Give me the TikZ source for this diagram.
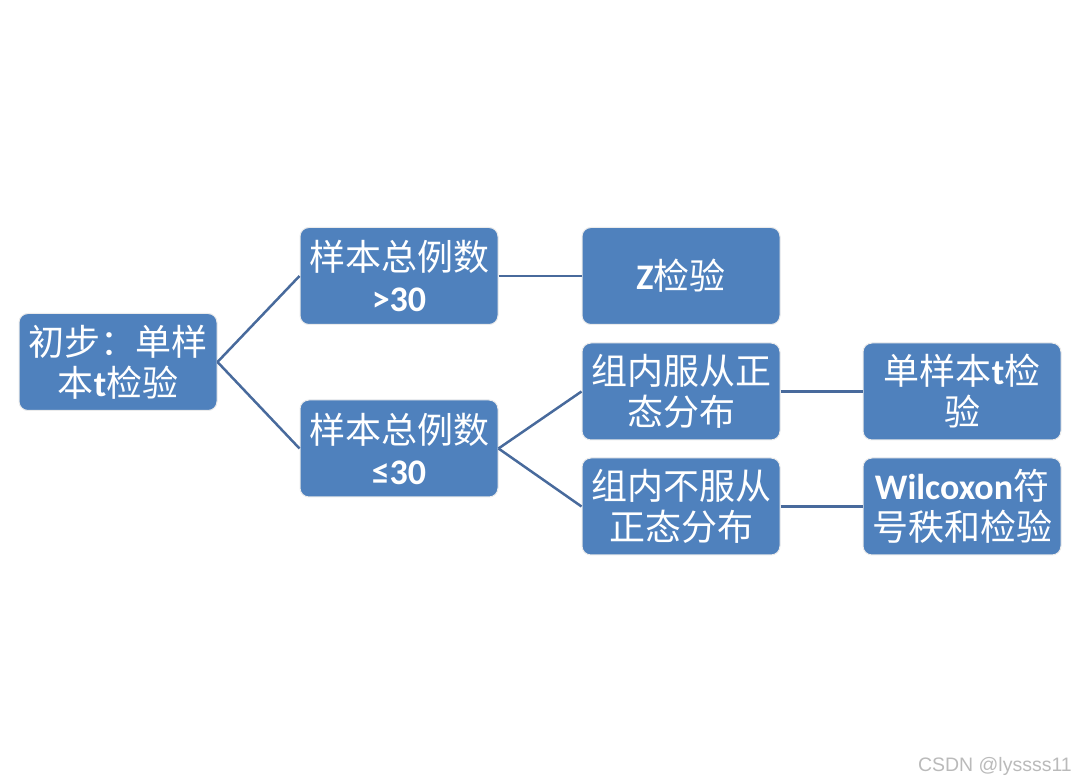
\documentclass[tikz,border=0pt]{standalone}
\usepackage{fontspec}
\newfontfamily\cjk{Noto Sans CJK SC}
\newfontfamily\lat{Carlito}
\newfontfamily\creditfont{Liberation Sans}
\usetikzlibrary{positioning}
\newcommand{\en}[1]{{\lat\bfseries #1}}
\definecolor{boxblue}{RGB}{79,129,189}
\definecolor{linkblue}{RGB}{72,106,156}

\begin{document}
\begin{tikzpicture}[
    x = 1pt, y = -1pt,
    testbox/.style = {rectangle, rounded corners = 9pt, draw = black!8, line width = 1pt,
        fill = boxblue, text = white, align = center, inner sep = 0pt,
        minimum width = 198pt, minimum height = 97pt,
        font = \cjk\fontsize{36}{41}\selectfont},
    link/.style = {draw = linkblue, line width = 2.5pt},
    ]
    \useasboundingbox (0,0) rectangle (1080,783);

    % first test and the two sample sizes
    \node [testbox] (start) at (118,362) {初步：单样\\本\en{t}检验};
    \node [testbox] (large) at (399,276) {样本总例数\\\en{>30}};
    \node [testbox] (small) at (399,448.5) {样本总例数\\\en{≤30}};

    % tests for each case
    \node [testbox] (ztest) [right = 83pt of large] {\en{Z}检验};
    \node [testbox] (normal) at (681,391.5) {组内服从正\\态分布};
    \node [testbox] (nonnormal) at (681,506.5) {组内不服从\\正态分布};
    \node [testbox] (ttest) [right = 82pt of normal] {单样本\en{t}检\\验};
    \node [testbox] (wilcoxon) [right = 82pt of nonnormal] {\en{Wilcoxon}符\\号秩和检验};

    \draw [link] (start.east) -- (large.west);
    \draw [link] (start.east) -- (small.west);
    \draw [link] (large.east) -- (ztest.west);
    \draw [link] (small.east) -- (normal.west);
    \draw [link] (small.east) -- (nonnormal.west);
    \draw [link] (normal.east) -- (ttest.west);
    \draw [link] (nonnormal.east) -- (wilcoxon.west);

    \node [text = black!27, font = \creditfont\fontsize{19.5}{22}\selectfont, anchor = east, inner sep = 0pt] (credit) at (1072,766) {CSDN @lyssss11};
\end{tikzpicture}
\end{document}
